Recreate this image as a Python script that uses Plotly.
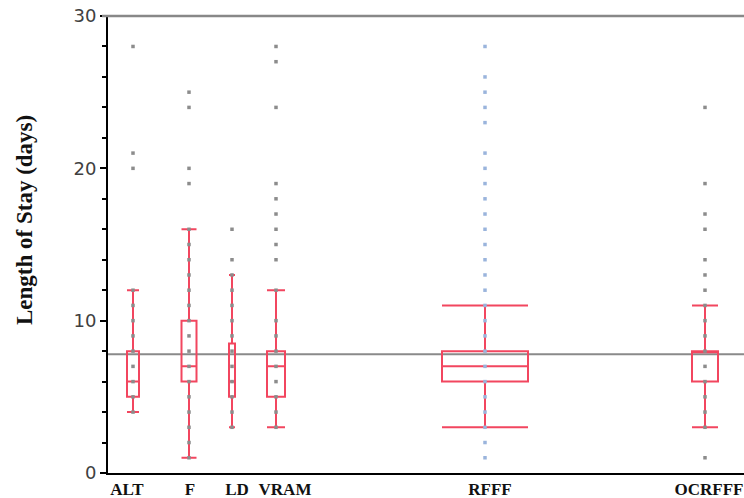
import plotly.graph_objects as go

# ---- data ----
groups = ["ALT", "F", "LD", "VRAM", "RFFF", "OCRFFF"]
q1 = [5, 6, 5, 5, 6, 6]
median = [6, 7, 6, 7, 7, 8]
q3 = [8, 10, 8.5, 8, 8, 8]
lower = [4, 1, 3, 3, 3, 3]
upper = [12, 16, 13, 12, 11, 11]
points_ALT = [4, 5, 6, 7, 8, 9, 10, 11, 12, 20, 21, 28]
points_F = [1, 2, 3, 4, 5, 6, 7, 8, 9, 10, 11, 12, 13, 14, 15, 16, 19, 20, 24, 25]
points_LD = [3, 4, 5, 6, 7, 8, 9, 10, 11, 12, 13, 14, 16]
points_VRAM = [3, 4, 5, 6, 7, 8, 9, 10, 12, 14, 15, 16, 17, 18, 19, 24, 27, 28]
points_RFFF = [1, 2, 3, 4, 5, 6, 7, 8, 9, 10, 11, 12, 13, 14, 15, 16, 17, 18, 19, 20,
               21, 23, 24, 25, 26, 28]
points_OCRFFF = [1, 3, 4, 5, 6, 7, 8, 9, 10, 11, 12, 13, 14, 16, 17, 19, 24]
overall_mean = 7.8

# ---- layout (positions / sizes) ----
centers = [25, 81, 124, 168, 377, 597]
label_pos = [19, 82, 129, 177, 382, 601]
widths = [12, 15, 6, 18, 86, 26]
point_colors = ["#8c8c8c", "#8c8c8c", "#8c8c8c", "#8c8c8c", "#9ab4dc", "#8c8c8c"]
all_points = [points_ALT, points_F, points_LD, points_VRAM, points_RFFF, points_OCRFFF]

RED = "#f2465f"

fig = go.Figure()
for i, g in enumerate(groups):
    fig.add_trace(go.Box(
        x=[centers[i]], q1=[q1[i]], median=[median[i]], q3=[q3[i]],
        lowerfence=[lower[i]], upperfence=[upper[i]],
        width=widths[i], whiskerwidth=1, boxpoints=False,
        line=dict(color=RED, width=2), fillcolor="rgba(0,0,0,0)",
        name=g, showlegend=False, hoverinfo="skip"))

for i, g in enumerate(groups):
    pts = all_points[i]
    fig.add_trace(go.Scatter(
        x=[centers[i]] * len(pts), y=pts, mode="markers",
        marker=dict(symbol="square", size=3.5, color=point_colors[i], line=dict(width=0)),
        showlegend=False, hoverinfo="skip"))

L, R, T, B = 108, 0, 16, 25
W, H = 744, 498
pw = W - L - R
ph = H - T - B

fig.update_layout(
    width=W, height=H,
    margin=dict(l=L, r=R, t=T, b=B, pad=0),
    paper_bgcolor="white", plot_bgcolor="white",
    boxmode="overlay",
    xaxis=dict(range=[0, pw], tickmode="array", tickvals=label_pos, ticktext=groups,
               showgrid=False, zeroline=False, showline=True, linecolor="black",
               linewidth=2, ticks="",
               tickfont=dict(family="Liberation Serif", size=17, color="#111", weight="bold")),
    yaxis=dict(range=[0, 30], dtick=10, tick0=0, showgrid=False, zeroline=False,
               showline=True, linecolor="black", linewidth=2,
               ticks="outside", ticklen=6, tickwidth=1.5, tickcolor="black",
               tickfont=dict(family="DejaVu Sans", size=18, color="#404040"),
               minor=dict(dtick=2, ticks="outside", ticklen=4, tickwidth=1.5,
                          tickcolor="black", showgrid=False)),
)

# overall mean line
fig.add_shape(type="line", xref="paper", yref="y", x0=0, x1=1,
              y0=overall_mean, y1=overall_mean,
              line=dict(color="#8a8a8a", width=2), layer="below")
# top frame line
fig.add_shape(type="line", xref="paper", yref="paper", x0=(102 - L) / pw, x1=1,
              y0=1, y1=1, line=dict(color="#888888", width=2.5))

# y-axis title
fig.add_annotation(text="Length of Stay (days)", xref="paper", yref="paper",
                   x=(24 - L) / pw, y=(H - B - 220) / ph, textangle=-90,
                   showarrow=False, xanchor="center", yanchor="middle",
                   font=dict(family="Liberation Serif", size=23, color="#111", weight="bold"))

fig.write_html("out.html")
